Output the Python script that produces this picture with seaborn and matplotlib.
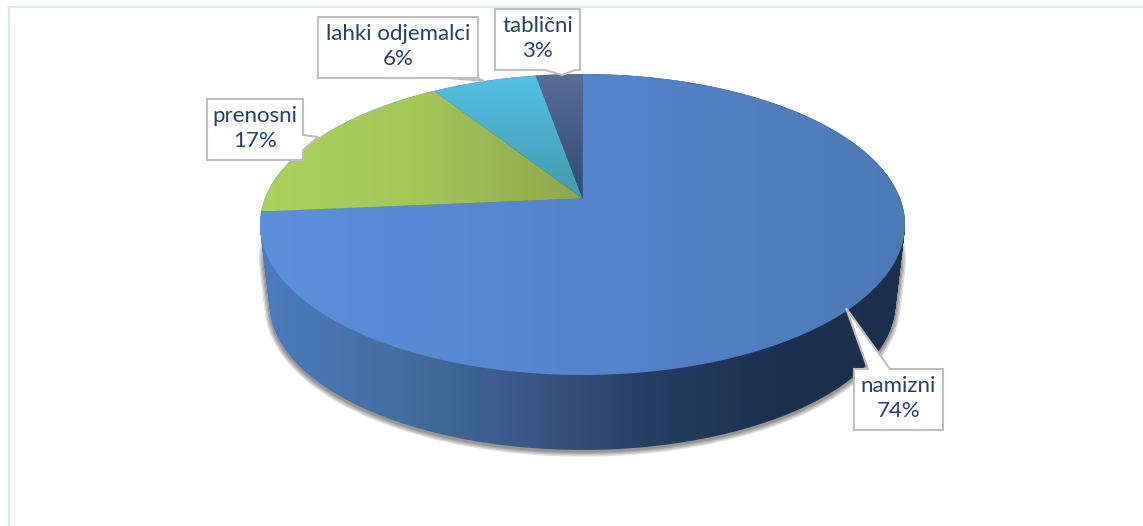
import numpy as np
import matplotlib
matplotlib.use('Agg')
import matplotlib.pyplot as plt
import seaborn as sns
from matplotlib.lines import Line2D
from matplotlib.patches import PathPatch, Polygon
from matplotlib.path import Path
from matplotlib.transforms import Affine2D, IdentityTransform

sns.set_theme(style="white")
plt.rcParams['font.family'] = ['Lato', 'DejaVu Sans']

# Data (labels show these rounded)
categories = ['namizni', 'prenosni', 'lahki odjemalci', 'tablični']
shares = [73.6, 17.4, 6.25, 2.75]

# Top face gradients per slice: colours and ramp direction
face_colors = [['#5C90D9', '#5485CC', '#4C7AB5'],
               ['#A9D35D', '#A3C658', '#8FA64E'],
               ['#54C1E3', '#4399AF'],
               ['#596E94', '#2E4A76']]
face_ramps = ['x', 'x', 'y', 'y']
wall_colors = ['#4C7BBE', '#44709F', '#3A5A88', '#253F62', '#1C3150', '#1B2F4D']

# Callouts in image pixels: box (x0, y0, x1, y1), pointer base and tip
boxes = [(854, 369, 943, 430), (207, 99, 303, 160), (318, 17, 478, 78), (495, 9, 580, 70)]
pointers = [[(868, 369), (846, 308), (890, 369)],
            [(303, 135), (318, 137), (303, 150)],
            [(478, 78), (484, 81), (450, 78)],
            [(575, 70), (562, 75), (545, 70)]]

W, H = 1143, 526
CX, CY, RX, RY = 582.5, 224.5, 322.5, 150.5
TILT = 0.173       # apex sits above the ellipse centre
DEPTH = 0.528      # wall height, in pie radii
TAPER = 0.03       # lower rim is slightly narrower
TEXT_COLOR = '#23406E'


def flat(path):
    # flatten bezier arcs to a polygon, scaled so the arcs stay smooth
    return path.to_polygons(Affine2D().scale(500), closed_only=False)[0] / 500


def tilt(pts):
    # projective map that keeps the rim but moves the apex, as in a 3D pie
    x, y = pts[:, 0], pts[:, 1]
    d = 1 + TILT * y
    return np.column_stack([x * np.sqrt(1 - TILT ** 2) / d, (y + TILT) / d])


def gradient(ax, path, colors, ramp, zorder):
    cmap = sns.blend_palette(colors, as_cmap=True)
    x0, y0 = path.vertices.min(axis=0)
    x1, y1 = path.vertices.max(axis=0)
    grad = np.linspace(0, 1, 256)
    grad = grad[None, :] if ramp == 'x' else grad[:, None]
    im = ax.imshow(grad, extent=(x0, x1, y0, y1), origin='upper', cmap=cmap,
                   aspect='auto', zorder=zorder, interpolation='bilinear')
    im.set_clip_path(path, ax.transData)


fig = plt.figure(figsize=(W / 100, H / 100), dpi=100)
ax = fig.add_axes([0, 0, 1, 1])

wedges, _ = ax.pie(shares, startangle=90, counterclock=False)
faces = [Path(tilt(flat(w.get_path()))) for w in wedges]
for w in wedges:
    w.set_visible(False)

# wall: union of discs stepping down from the top rim to the lower rim
discs = []
for t in np.linspace(0, 1, 40):
    rim, _ = ax.pie([1], radius=1 - TAPER * t, center=(0, -DEPTH * t))
    discs.append(Path(flat(rim[0].get_path())))
    rim[0].set_visible(False)

ax.set_aspect('auto')
ax.autoscale(False)
ax.set_xlim(-CX / RX, (W - CX) / RX)
ax.set_ylim((CY - H) / RY, CY / RY)
ax.set_axis_off()

# soft shadow under the lower part of the wall
shadow = Path.make_compound_path(*discs[16:])
for lw in [7, 5, 3, 1.5]:
    ax.add_patch(PathPatch(shadow, facecolor='none', edgecolor='#333333', lw=lw, alpha=0.16,
                           transform=Affine2D().translate(0, -0.012) + ax.transData, zorder=1))

wall = Path.make_compound_path(*discs)
gradient(ax, wall, wall_colors, 'x', 2)

for face, colors, ramp in zip(faces, face_colors, face_ramps):
    gradient(ax, face, colors, ramp, 3)

# callouts with pointer, drawn in pixels
for name, share, box, ptr in zip(categories, shares, boxes, pointers):
    x0, y0, x1, y1 = box
    corners = [(x0, y0), (x1, y0), (x1, y1), (x0, y1)]
    # insert the pointer on the side its base lies on
    if ptr[0][1] == y0:
        outline = [corners[0]] + ptr + corners[1:]
    elif ptr[0][0] == x1:
        outline = corners[:2] + ptr + corners[2:]
    else:
        outline = corners[:2] + [corners[2]] + ptr + corners[3:]
    outline = [(px, H - py) for px, py in outline]
    ax.add_patch(Polygon(outline, closed=True, facecolor='white', edgecolor='#BFBFBF', lw=1.5,
                         joinstyle='miter', transform=IdentityTransform(), zorder=5))
    ax.text((x0 + x1) / 2, H - (y0 + y1) / 2 + 1, f'{name}\n{share:.0f}%', color=TEXT_COLOR, fontsize=16,
            ha='center', va='center', linespacing=1.3, transform=IdentityTransform(), zorder=6)

# pale slide frame
fig.add_artist(Line2D([8, W], [H - 7, H - 7], color='#DDE6EF', lw=1.2, transform=IdentityTransform()))
fig.add_artist(Line2D([9, 9], [0, H - 7], color='#DAE5F5', lw=1.6, transform=IdentityTransform()))

fig.savefig('out.png', dpi=100, facecolor='white')
